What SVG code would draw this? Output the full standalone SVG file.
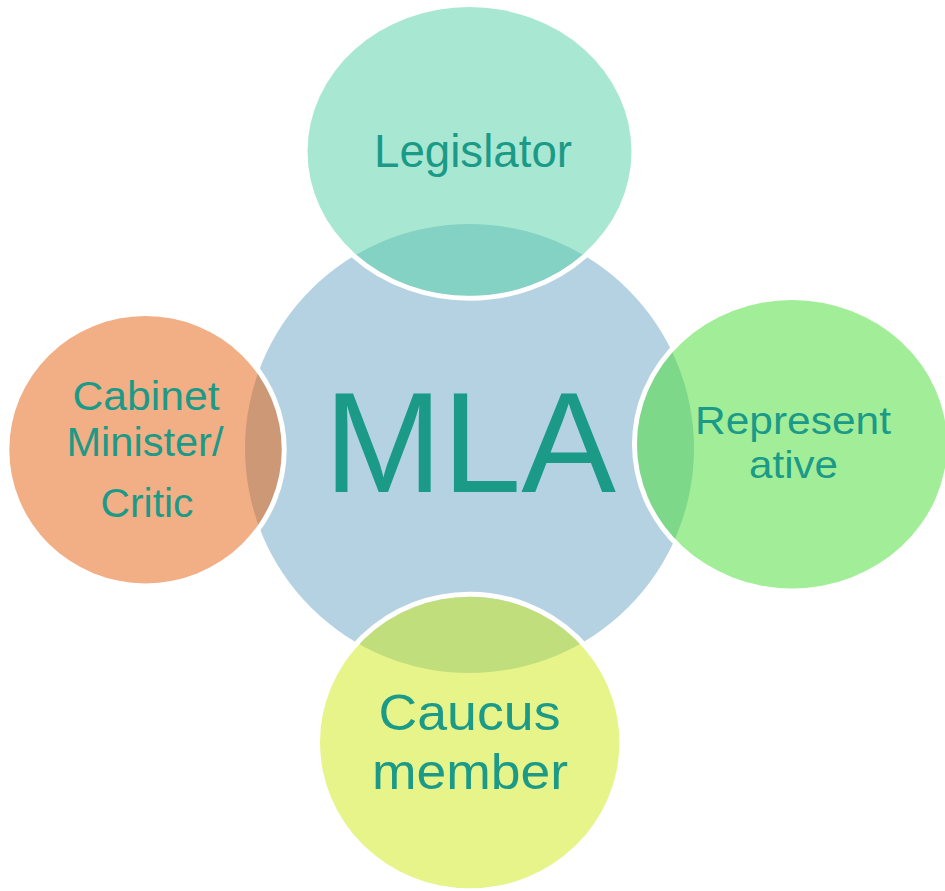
<svg xmlns="http://www.w3.org/2000/svg" width="945" height="891" viewBox="0 0 945 891">
<style>
text{font-family:"Liberation Sans",Arial,sans-serif;fill:#1B9A88;text-anchor:middle}
.sat{fill-opacity:0.5;stroke:none}
.ring{fill:none;stroke:#FFFFFF;stroke-width:5}
</style>
<rect width="945" height="891" fill="#FFFFFF"/>
<g id="mla">
<circle cx="469.5" cy="448.5" r="224.5" fill="#B5D2E3"/>
<text x="470" y="492" font-size="142">MLA</text>
</g>
<g id="legislator">
<ellipse class="ring" cx="469.5" cy="151.4" rx="164.5" ry="146.9"/>
<ellipse class="sat" cx="469.5" cy="151.4" rx="162" ry="144.4" fill="#51D1A5"/>
<text x="473" y="166.5" font-size="47" textLength="198" lengthAdjust="spacingAndGlyphs">Legislator</text>
</g>
<g id="representative">
<ellipse class="ring" cx="792" cy="444.2" rx="157.5" ry="146.7"/>
<ellipse class="sat" cx="792" cy="444.2" rx="155" ry="144.2" fill="#45DD31"/>
<text x="793" y="434.3" font-size="39" textLength="196" lengthAdjust="spacingAndGlyphs">Represent</text>
<text x="793.5" y="478.3" font-size="39" textLength="89" lengthAdjust="spacingAndGlyphs">ative</text>
</g>
<g id="cabinet">
<ellipse class="ring" cx="145.5" cy="449.7" rx="138.7" ry="136.2"/>
<ellipse class="sat" cx="145.5" cy="449.7" rx="136.2" ry="133.7" fill="#E55D09"/>
<text x="146" y="409.5" font-size="40" textLength="147" lengthAdjust="spacingAndGlyphs">Cabinet</text>
<text x="145" y="455.5" font-size="40" textLength="157" lengthAdjust="spacingAndGlyphs">Minister/</text>
<text x="147" y="516.7" font-size="40" textLength="93" lengthAdjust="spacingAndGlyphs">Critic</text>
</g>
<g id="caucus">
<ellipse class="ring" cx="469.7" cy="742.5" rx="152.2" ry="148.3"/>
<ellipse class="sat" cx="469.7" cy="742.5" rx="149.7" ry="145.8" fill="#CDE915"/>
<text x="469.5" y="729.5" font-size="50" textLength="182" lengthAdjust="spacingAndGlyphs">Caucus</text>
<text x="470" y="788.5" font-size="50" textLength="196" lengthAdjust="spacingAndGlyphs">member</text>
</g>
</svg>
